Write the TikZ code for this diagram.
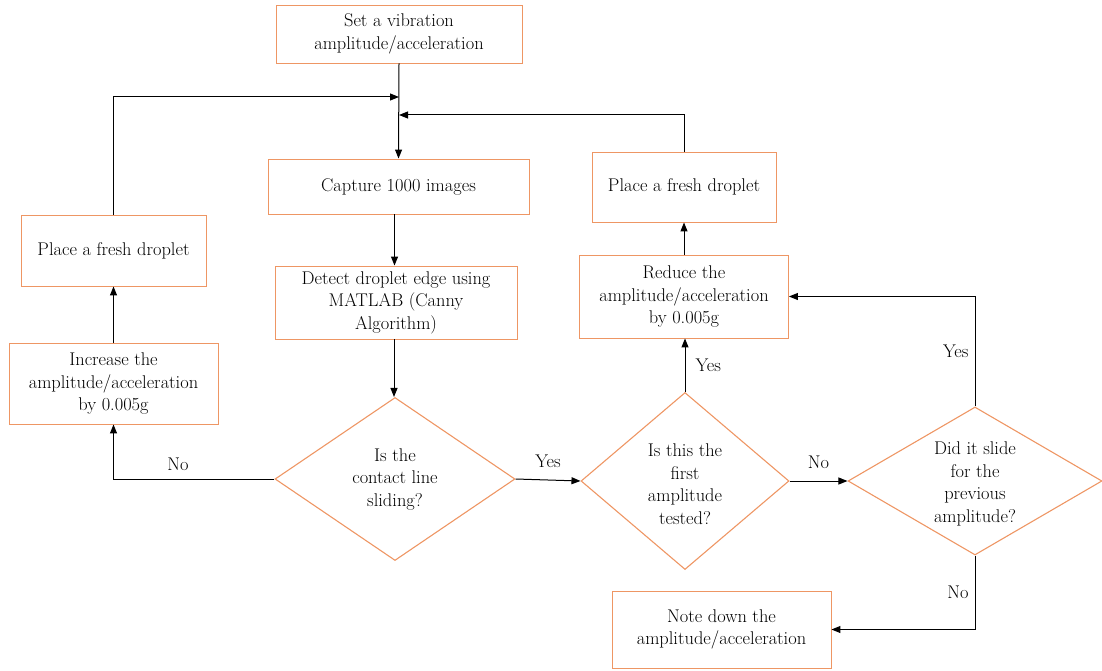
\documentclass[tikz,border=0pt]{standalone}
\usetikzlibrary{shapes.geometric,arrows.meta,calc}

\definecolor{boxedge}{RGB}{238,150,100}

\begin{document}
\begin{tikzpicture}[x=1pt,y=-1pt,
  font=\fontsize{18.4}{22.5}\selectfont,
  stepbox/.style 2 args={draw=boxedge,line width=0.9pt,rectangle,align=center,
    inner sep=2pt,minimum width=#1,minimum height=#2},
  decision/.style 2 args={draw=boxedge,line width=1.1pt,diamond,inner sep=0pt,
    minimum width=#1,minimum height=#2},
  dtext/.style={align=center,inner sep=0pt},
  flow/.style={line width=1pt,-{Triangle[length=9pt,width=7pt]}},
  tag/.style={inner sep=0pt}
]
\useasboundingbox (0,0) rectangle (1102,671);

% process boxes
\node[stepbox={246pt}{58pt}] (set) at (399,34) {Set a vibration\\amplitude/acceleration};
\node[stepbox={261pt}{55pt}] (capture) at (398.5,186.5) {Capture 1000 images};
\node[stepbox={242pt}{73pt}] (detect) at (396,302.5) {Detect droplet edge using\\MATLAB (Canny\\Algorithm)};
\node[stepbox={185pt}{71pt}] (placeL) at (113.5,250.5) {Place a fresh droplet};
\node[stepbox={209pt}{81pt}] (increase) at (113.5,383.5) {Increase the\\amplitude/acceleration\\by 0.005g};
\node[stepbox={184pt}{70pt}] (placeR) at (684,187) {Place a fresh droplet};
\node[stepbox={209pt}{83pt}] (reduce) at (684,296.5) {Reduce the\\amplitude/acceleration\\by 0.005g};
\node[stepbox={219pt}{77pt}] (note) at (721.5,629.5) {Note down the\\amplitude/acceleration};

% decisions
\node[decision={240pt}{163pt}] (d1) at (395,479) {};
\node[dtext] (d1t) at (d1) {Is the\\contact line\\sliding?};
\node[decision={208pt}{177pt}] (d2) at (685,481) {};
\node[dtext] (d2t) at ($(d2)+(0,3)$) {Is this the\\first\\amplitude\\tested?};
\node[decision={254pt}{148pt}] (d3) at (975,481) {};
\node[dtext] (d3t) at ($(d3)+(0,3)$) {Did it slide\\for the\\previous\\amplitude?};

% merge points on the main feed line
\coordinate (j1) at (399,97);
\coordinate (j2) at (399,115);
% feed points below the capture and detection boxes
\coordinate (c1) at ($(capture.south)+(-4,0)$);
\coordinate (c2) at ($(detect.south)+(-2,0)$);

% main column
\draw[flow] (set.south) -- (capture.north);
\draw[flow] (c1) -- (c1 |- detect.north);
\draw[flow] (c2) -- (c2 |- d1.north);

% "No" branch: increase and restart
\draw[flow] (d1.west) -| node[tag,pos=0.3,above=8pt] {No} (increase.south);
\draw[flow] (increase.north) -- (placeL.south);
\draw[flow] (placeL.north) |- (j1);

% "Yes" branch
\draw[flow] (d1.east) -- node[tag,above=12pt] {Yes} (d2.west);
\draw[flow] (d2.north) -- node[tag,right=10pt] {Yes} (d2.north |- reduce.south);
\draw[flow] (reduce.north) -- (placeR.south);
\draw[flow] (placeR.north) |- (j2);

% second decision
\draw[flow] (d2.east) -- node[tag,above=12pt] {No} (d3.west);
\draw[flow] (d3.north) |- node[tag,pos=0.25,left=6pt] {Yes} (reduce.east);
\draw[flow] (d3.south) |- node[tag,pos=0.25,left=6pt] {No} (note.east);
\end{tikzpicture}
\end{document}
